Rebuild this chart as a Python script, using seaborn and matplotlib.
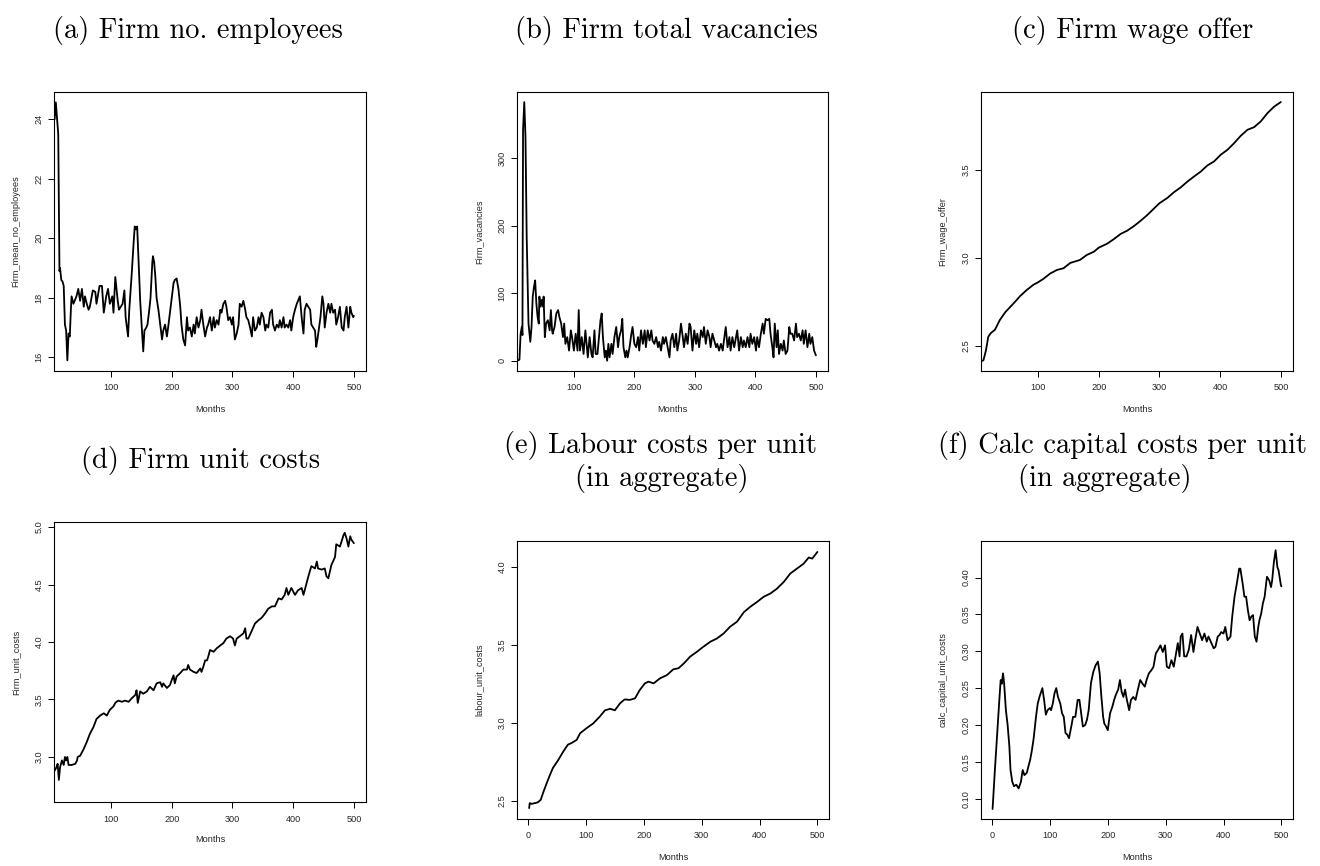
import numpy as np
import pandas as pd
import matplotlib
matplotlib.use("Agg")
import matplotlib.pyplot as plt
import seaborn as sns

# ---------------------------------------------------------------------------
# Simulation output, one monthly series per panel (months, value)
# ---------------------------------------------------------------------------
emp_months = [7, 9, 13, 15, 16, 18, 20, 22, 24, 26, 28, 30, 32, 34, 35, 38, 43, 46, 49, 52,
              55, 57, 60, 63, 65, 70, 74, 76, 81, 85, 88, 92, 95, 98, 102, 104, 107, 111, 113, 116,
              119, 122, 124, 128, 130, 134, 137, 139, 141, 143, 145, 148, 151, 153, 155, 158, 160, 163, 165, 168,
              169, 171, 173, 175, 178, 181, 184, 186, 189, 192, 194, 197, 200, 203, 205, 208, 211, 214, 216, 219,
              222, 225, 227, 230, 233, 236, 238, 241, 244, 247, 249, 252, 255, 258, 260, 263, 266, 269, 271, 274,
              277, 280, 282, 285, 288, 290, 293, 296, 299, 301, 304, 307, 310, 312, 315, 318, 321, 323, 326, 329,
              332, 334, 337, 340, 343, 345, 348, 351, 354, 356, 359, 362, 365, 367, 370, 373, 376, 378, 381, 384,
              386, 389, 392, 395, 397, 400, 403, 406, 408, 411, 414, 417, 419, 422, 425, 428, 430, 433, 436, 438,
              440, 442, 445, 448, 450, 452, 455, 458, 461, 463, 466, 469, 471, 474, 477, 480, 483, 485, 488, 491,
              494, 496, 499, 500]
emp_values = [24.0, 24.57, 23.5, 18.9, 19.0, 18.6, 18.55, 18.4, 17.1, 16.9, 15.9, 16.8, 16.7, 17.7, 18.05, 17.8, 18.05, 18.3, 17.9, 18.3,
              17.7, 18.05, 17.8, 17.6, 17.7, 18.25, 18.2, 17.8, 18.4, 18.4, 17.5, 18.05, 18.3, 17.8, 18.05, 17.5, 18.7, 17.9, 17.6, 17.7,
              17.8, 18.25, 17.35, 16.7, 17.6, 18.8, 19.8, 20.4, 20.3, 20.4, 19.4, 17.9, 16.9, 16.2, 16.9, 17.0, 17.1, 17.6, 18.0, 19.2,
              19.4, 19.2, 18.7, 18.0, 17.6, 17.1, 16.6, 16.9, 17.1, 16.7, 17.0, 17.5, 18.0, 18.5, 18.6, 18.65, 18.3, 17.7, 17.1, 16.6,
              16.4, 17.35, 16.9, 17.0, 16.7, 17.1, 16.8, 17.35, 17.0, 17.25, 17.6, 17.1, 16.7, 17.0, 17.1, 17.35, 16.9, 17.35, 17.0, 17.25,
              17.1, 17.6, 17.5, 17.8, 17.9, 17.7, 17.25, 17.35, 17.1, 17.35, 16.6, 16.8, 17.1, 17.8, 17.7, 17.9, 17.6, 17.35, 17.25, 17.0,
              16.7, 17.35, 16.9, 17.0, 17.35, 17.1, 17.5, 17.35, 16.9, 17.1, 17.0, 17.5, 17.6, 17.1, 16.9, 17.1, 17.0, 17.25, 17.0, 17.35,
              17.0, 17.1, 17.0, 17.25, 16.9, 17.35, 17.6, 17.8, 17.9, 18.05, 17.35, 16.8, 17.6, 17.8, 17.7, 17.6, 17.1, 17.0, 16.9, 16.35,
              16.6, 16.9, 17.35, 18.05, 17.8, 17.0, 17.5, 17.8, 17.5, 17.8, 17.5, 17.6, 17.1, 17.35, 17.7, 17.0, 16.9, 17.35, 17.7, 17.0,
              17.7, 17.5, 17.35, 17.4]

vac_months = [6, 10, 12, 14, 15, 16, 18, 20, 22, 25, 28, 30, 32, 34, 36, 38, 40, 42, 43, 45,
              47, 49, 50, 52, 54, 57, 60, 62, 64, 65, 68, 71, 74, 76, 79, 82, 84, 86, 89, 92,
              95, 97, 100, 103, 106, 108, 110, 113, 116, 119, 121, 123, 126, 129, 131, 134, 136, 139, 141, 144,
              146, 148, 151, 153, 155, 157, 159, 162, 164, 167, 170, 173, 175, 178, 180, 182, 185, 187, 189, 192,
              195, 197, 200, 203, 206, 208, 211, 214, 217, 219, 222, 225, 228, 230, 233, 236, 239, 241, 244, 247,
              249, 252, 255, 258, 260, 263, 266, 269, 271, 274, 277, 280, 282, 285, 288, 291, 293, 296, 299, 302,
              304, 307, 310, 313, 315, 318, 321, 324, 326, 329, 332, 335, 337, 340, 343, 346, 348, 351, 354, 357,
              359, 362, 365, 368, 370, 373, 376, 379, 381, 384, 387, 390, 392, 395, 398, 401, 403, 406, 409, 412,
              414, 417, 420, 423, 425, 428, 430, 432, 435, 437, 439, 442, 445, 447, 450, 453, 456, 458, 461, 464,
              467, 469, 472, 475, 478, 480, 483, 486, 489, 491, 494, 497, 500]
vac_values = [0, 1.5, 40, 50, 38, 342, 383, 332, 184, 55, 28, 50, 95, 109, 119, 85, 65, 55, 95, 80,
              90, 80, 95, 35, 55, 60, 45, 75, 45, 40, 50, 70, 75, 65, 55, 35, 55, 25, 35, 15,
              45, 35, 15, 40, 15, 75, 15, 35, 10, 45, 25, 5, 35, 10, 5, 45, 10, 10, 30, 60,
              70, 35, 5, 15, 0, 25, 5, 25, 10, 35, 50, 20, 35, 45, 62, 20, 5, 15, 5, 20,
              40, 50, 25, 20, 35, 15, 45, 25, 45, 20, 45, 30, 45, 30, 25, 35, 20, 28, 15, 35,
              25, 35, 20, 5, 30, 40, 20, 40, 15, 30, 55, 35, 20, 40, 25, 55, 50, 15, 45, 25,
              40, 20, 45, 35, 50, 25, 45, 35, 20, 40, 30, 20, 25, 15, 25, 15, 30, 50, 20, 35,
              15, 35, 20, 35, 45, 15, 35, 20, 30, 20, 35, 20, 40, 25, 35, 15, 35, 20, 40, 55,
              40, 62, 60, 62, 40, 20, 5, 55, 20, 45, 10, 25, 15, 30, 10, 15, 50, 40, 40, 30,
              55, 35, 40, 30, 45, 25, 45, 20, 40, 25, 35, 15, 8]

wage_months = [6, 10, 14, 18, 22, 29, 37, 46, 57, 65, 70, 81, 92, 100, 109, 120, 131, 142, 153, 169,
               180, 192, 200, 214, 225, 236, 247, 258, 269, 280, 291, 300, 313, 324, 335, 346, 357, 368, 379, 390,
               401, 412, 423, 434, 445, 456, 467, 478, 489, 500]
wage_values = [2.41, 2.416, 2.47, 2.55, 2.57, 2.59, 2.645, 2.69, 2.73, 2.76, 2.78, 2.815, 2.845, 2.86, 2.88, 2.91, 2.93, 2.94, 2.97, 2.987,
               3.015, 3.034, 3.057, 3.08, 3.106, 3.135, 3.154, 3.18, 3.21, 3.243, 3.28, 3.31, 3.34, 3.373, 3.40, 3.433, 3.462, 3.49, 3.525, 3.548,
               3.586, 3.614, 3.652, 3.694, 3.728, 3.743, 3.776, 3.823, 3.86, 3.886]

ucost_months = [7, 10, 12, 14, 16, 19, 22, 24, 26, 28, 30, 35, 41, 44, 45, 49, 55, 60, 65, 71,
                76, 82, 88, 93, 98, 104, 107, 109, 112, 118, 123, 129, 134, 140, 142, 144, 148, 153, 159, 164,
                170, 175, 181, 184, 186, 192, 197, 200, 203, 205, 208, 214, 219, 225, 227, 230, 236, 241, 247, 249,
                252, 255, 258, 260, 263, 269, 274, 280, 285, 290, 296, 301, 304, 307, 312, 318, 321, 323, 326, 332,
                337, 343, 348, 354, 359, 365, 370, 376, 381, 386, 389, 392, 397, 403, 408, 414, 417, 422, 425, 430,
                436, 439, 441, 447, 452, 455, 458, 463, 469, 471, 477, 483, 485, 488, 491, 494, 496, 500]
ucost_values = [2.88, 2.91, 2.94, 2.80, 2.91, 2.97, 2.93, 3.0, 2.97, 3.0, 2.93, 2.93, 2.94, 2.97, 3.0, 3.01, 3.07, 3.13, 3.20, 3.26,
                3.33, 3.36, 3.38, 3.36, 3.41, 3.44, 3.47, 3.48, 3.49, 3.48, 3.49, 3.48, 3.51, 3.54, 3.58, 3.47, 3.57, 3.55, 3.57, 3.61,
                3.58, 3.64, 3.65, 3.61, 3.64, 3.60, 3.625, 3.67, 3.71, 3.64, 3.70, 3.73, 3.76, 3.76, 3.80, 3.76, 3.74, 3.73, 3.77, 3.74,
                3.785, 3.84, 3.84, 3.87, 3.93, 3.915, 3.945, 3.97, 3.99, 4.03, 4.05, 4.03, 3.97, 4.03, 4.05, 4.075, 4.12, 4.03, 4.03, 4.10,
                4.16, 4.19, 4.21, 4.25, 4.29, 4.31, 4.31, 4.38, 4.37, 4.41, 4.47, 4.41, 4.47, 4.41, 4.45, 4.47, 4.41, 4.51, 4.57, 4.66,
                4.64, 4.70, 4.64, 4.63, 4.64, 4.57, 4.555, 4.67, 4.74, 4.85, 4.83, 4.93, 4.95, 4.90, 4.83, 4.92, 4.89, 4.86]

labour_months = [2, 3, 6, 12, 17, 22, 26, 32, 38, 43, 52, 61, 69, 75, 84, 90, 101, 113, 124, 133,
                 142, 150, 159, 167, 176, 185, 193, 202, 208, 217, 228, 240, 251, 260, 269, 280, 292, 303, 315, 326,
                 338, 349, 361, 373, 384, 396, 407, 419, 430, 442, 453, 465, 476, 485, 491, 500]
labour_values = [2.453, 2.485, 2.48, 2.485, 2.49, 2.506, 2.55, 2.61, 2.666, 2.71, 2.76, 2.816, 2.86, 2.87, 2.89, 2.933, 2.965, 2.997, 3.04, 3.08,
                 3.09, 3.08, 3.125, 3.15, 3.147, 3.157, 3.21, 3.253, 3.264, 3.253, 3.285, 3.306, 3.343, 3.35, 3.38, 3.424, 3.456, 3.488, 3.52, 3.54,
                 3.573, 3.616, 3.648, 3.71, 3.744, 3.776, 3.808, 3.83, 3.86, 3.904, 3.957, 3.99, 4.02, 4.06, 4.053, 4.096]

capital_months = [1, 5, 9, 13, 15, 17, 19, 21, 24, 27, 30, 32, 35, 38, 42, 46, 50, 53, 56, 60,
                  66, 69, 72, 76, 79, 82, 85, 87, 90, 93, 96, 100, 102, 105, 108, 111, 114, 118, 121, 124,
                  127, 130, 133, 137, 140, 144, 148, 151, 154, 157, 161, 164, 167, 171, 175, 179, 183, 186, 189, 192,
                  194, 197, 200, 204, 208, 211, 214, 218, 221, 224, 227, 230, 233, 237, 240, 244, 248, 252, 256, 260,
                  264, 267, 271, 276, 279, 283, 287, 291, 295, 299, 302, 306, 310, 314, 318, 321, 324, 326, 329, 332,
                  336, 340, 344, 348, 351, 355, 359, 363, 367, 371, 374, 379, 383, 386, 390, 393, 396, 400, 403, 407,
                  412, 415, 419, 423, 427, 429, 433, 436, 439, 442, 445, 448, 451, 454, 457, 460, 462, 465, 468, 471,
                  475, 479, 482, 484, 487, 490, 493, 495, 499, 500]
capital_values = [0.086, 0.139, 0.189, 0.238, 0.261, 0.256, 0.27, 0.256, 0.22, 0.20, 0.171, 0.139, 0.123, 0.117, 0.119, 0.114, 0.123, 0.139, 0.132, 0.135,
                  0.153, 0.166, 0.182, 0.211, 0.229, 0.238, 0.245, 0.25, 0.234, 0.214, 0.22, 0.223, 0.22, 0.229, 0.243, 0.25, 0.238, 0.229, 0.216, 0.211,
                  0.189, 0.187, 0.182, 0.198, 0.211, 0.211, 0.234, 0.234, 0.216, 0.198, 0.20, 0.207, 0.22, 0.257, 0.272, 0.281, 0.286, 0.27, 0.238, 0.211,
                  0.202, 0.198, 0.193, 0.216, 0.225, 0.234, 0.241, 0.248, 0.261, 0.245, 0.238, 0.248, 0.234, 0.22, 0.234, 0.238, 0.234, 0.248, 0.261, 0.256,
                  0.252, 0.261, 0.27, 0.275, 0.279, 0.297, 0.302, 0.308, 0.299, 0.308, 0.279, 0.277, 0.288, 0.279, 0.297, 0.311, 0.293, 0.32, 0.324, 0.293,
                  0.293, 0.302, 0.322, 0.299, 0.315, 0.333, 0.324, 0.315, 0.324, 0.313, 0.32, 0.311, 0.304, 0.306, 0.32, 0.322, 0.326, 0.324, 0.333, 0.315,
                  0.32, 0.347, 0.374, 0.392, 0.412, 0.412, 0.392, 0.374, 0.374, 0.356, 0.342, 0.347, 0.349, 0.32, 0.313, 0.333, 0.342, 0.351, 0.365, 0.374,
                  0.401, 0.396, 0.387, 0.396, 0.421, 0.437, 0.414, 0.41, 0.39, 0.388]

# Panel captions, axis titles and tick labels
captions = [["(a) Firm no. employees"],
            ["(b) Firm total vacancies"],
            ["(c) Firm wage offer"],
            ["(d) Firm unit costs"],
            ["(e) Labour costs per unit", "(in aggregate)"],
            ["(f) Calc capital costs per unit", "(in aggregate)"]]
y_titles = ["Firm_mean_no_employees", "Firm_vacancies", "Firm_wage_offer",
            "Firm_unit_costs", "labour_unit_costs", "calc_capital_unit_costs"]
x_title = "Months"
x_ticks_short = [100, 200, 300, 400, 500]
x_ticks_full = [0, 100, 200, 300, 400, 500]
y_tick_labels = [["16", "18", "20", "22", "24"],
                 ["0", "100", "200", "300"],
                 ["2.5", "3.0", "3.5"],
                 ["3.0", "3.5", "4.0", "4.5", "5.0"],
                 ["2.5", "3.0", "3.5", "4.0"],
                 ["0.10", "0.15", "0.20", "0.25", "0.30", "0.35", "0.40"]]

series = [(emp_months, emp_values), (vac_months, vac_values), (wage_months, wage_values),
          (ucost_months, ucost_values), (labour_months, labour_values), (capital_months, capital_values)]

# ---------------------------------------------------------------------------
# Layout (pixel boxes of the six plotting regions) and axis ranges
# ---------------------------------------------------------------------------
W, H = 1320, 866
boxes = [(54, 92, 366, 371), (517, 92, 828, 371), (981, 92, 1293, 371),
         (54, 522, 366, 802), (517, 541, 829, 819), (981, 541, 1293, 819)]
xlims = [(6, 520), (6, 520), (6, 520), (6, 520), (-19, 520), (-19, 520)]
ylims = [(15.54, 24.92), (-15.2, 398), (2.355, 3.943), (2.608, 5.044), (2.383, 4.166), (0.0725, 0.4495)]
# caption line positions: (centre x, baseline y) in pixels
caption_pos = [[(198, 38)], [(666, 38)], [(1133, 38)], [(201, 468)],
               [(661, 453), (662, 486)], [(1122, 453), (1105, 486)]]

sns.set_theme(style="white")
plt.rcParams["font.family"] = ["Liberation Sans", "DejaVu Sans"]

fig = plt.figure(figsize=(W / 100, H / 100), dpi=100)
fig.patch.set_facecolor("white")

tick_color = "#262626"
for i, (months, values) in enumerate(series):
    x0, y0, x1, y1 = boxes[i]
    ax = fig.add_axes([x0 / W, 1 - y1 / H, (x1 - x0) / W, (y1 - y0) / H])
    df = pd.DataFrame({"Months": months, "value": values})
    sns.lineplot(data=df, x="Months", y="value", ax=ax, color="black",
                 linewidth=1.3, estimator=None, sort=False)
    ax.set_xlim(*xlims[i])
    ax.set_ylim(*ylims[i])

    xt = x_ticks_full if i >= 4 else x_ticks_short
    ax.set_xticks(xt)
    ax.set_xticklabels([str(t) for t in xt])
    yl = y_tick_labels[i]
    ax.set_yticks([float(s) for s in yl])
    ax.set_yticklabels(yl, rotation=90, va="center")

    ax.tick_params(axis="both", which="major", direction="out", length=4.5, width=0.7,
                   color="black", labelsize=6.6, labelcolor=tick_color, bottom=True, left=True)
    ax.tick_params(axis="x", pad=4.5)
    ax.tick_params(axis="y", pad=3.0)
    for sp in ax.spines.values():
        sp.set_visible(True)
        sp.set_color("black")
        sp.set_linewidth(0.8)
    ax.grid(False)
    ax.set_facecolor("white")

    ax.set_xlabel(x_title, fontsize=6.6, color=tick_color)
    ax.set_ylabel(y_titles[i], fontsize=6.6, color=tick_color)
    wpx, hpx = x1 - x0, y1 - y0
    ax.xaxis.set_label_coords(0.5, -38 / hpx)
    ax.xaxis.label.set_va("center")
    ax.yaxis.set_label_coords(-38 / wpx, 0.5)
    ax.yaxis.label.set_va("center")

    for text, (cx, by) in zip(captions[i], caption_pos[i]):
        fig.text(cx / W, 1 - by / H, text, ha="center", va="baseline",
                 fontsize=20.5, family="cmr10", color="black")

fig.savefig("out.png", dpi=100, facecolor="white")
